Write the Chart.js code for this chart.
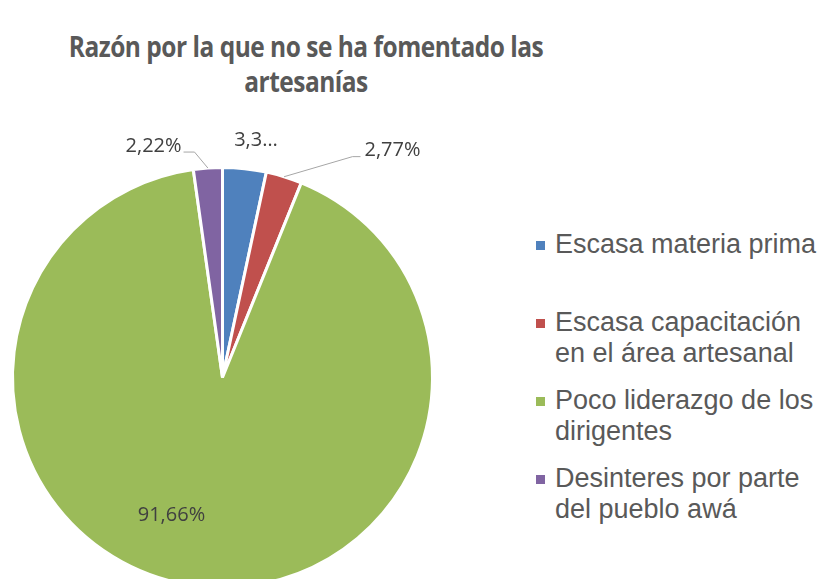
<!DOCTYPE html>
<html>
<head>
<meta charset="utf-8">
<script src="https://cdn.jsdelivr.net/npm/chart.js@4"></script>
<style>
  html, body { margin: 0; padding: 0; background: #fff; }
  #page { position: relative; width: 824px; height: 579px; overflow: hidden; }
  #title {
    position: absolute; left: 0; top: 35px; width: 612px;
    text-align: center; font-family: "Open Sans", sans-serif; font-weight: bold;
    font-size: 24.5px; letter-spacing: -0.5px; line-height: 28.5px; color: #595959;
    transform: scaleY(1.2); transform-origin: 50% 50%;
  }
  #chart-box { position: absolute; left: 0; top: 100px; width: 444px; height: 500px; }
  #legend {
    position: absolute; left: 536px; top: 229px;
    font-family: "Liberation Sans", Arial, sans-serif; font-size: 27px; color: #595959;
  }
  .legend-item { display: flex; align-items: flex-start; }
  .legend-swatch { width: 9px; height: 9px; margin-top: 12px; margin-right: 10px; flex: none; }
  .legend-text { line-height: 31px; }
</style>
</head>
<body>
<div id="page">
  <div id="title">Razón por la que no se ha fomentado las<br>artesanías</div>
  <div id="chart-box"><canvas id="pie" width="444" height="500"></canvas></div>
  <div id="legend"></div>
</div>
<script>
// =========================================================
// DATA
// =========================================================
const categories = [
  "Escasa materia prima",
  "Escasa capacitación en el área artesanal",
  "Poco liderazgo de los dirigentes",
  "Desinteres por parte del pueblo awá",
];
const legendLines = [
  ["Escasa materia prima"],
  ["Escasa capacitación", "en el área artesanal"],
  ["Poco liderazgo de los", "dirigentes"],
  ["Desinteres por parte", "del pueblo awá"],
];
const percentages = [3.35, 2.77, 91.66, 2.22];

const SLICE_COLORS = ["#4F81BD", "#C0504D", "#9BBB59", "#8064A2"];

// where each value label sits: angle nudge (deg) from the slice middle,
// distance as a fraction of the radius, and whether it gets a leader line
const labelPlacement = [
  { nudge: 2, dist: 1.14, leader: false, truncate: true },
  { nudge: 19.8, dist: 1.35, leader: true },
  { nudge: 13.3, dist: 0.70, leader: false },
  { nudge: -12.6, dist: 1.15, leader: true },
];

// =========================================================
// HELPER: 91.66 -> "91,66%"
// =========================================================
function formatPercent(value, truncate) {
  const text = value.toFixed(2).replace(".", ",") + "%";
  if (truncate) {
    return text.slice(0, 3) + "…";
  }
  return text;
}

// =========================================================
// PLUGIN: value labels with the little grey leader lines
// =========================================================
const valueLabels = {
  id: "valueLabels",
  afterDatasetsDraw(chart) {
    const ctx = chart.ctx;
    const arcs = chart.getDatasetMeta(0).data;
    ctx.save();
    ctx.font = "20px 'Open Sans', sans-serif";
    ctx.fillStyle = "#404040";
    ctx.textAlign = "center";
    ctx.textBaseline = "middle";

    arcs.forEach((arc, i) => {
      const place = labelPlacement[i];
      const mid = (arc.startAngle + arc.endAngle) / 2;
      const angle = mid + (place.nudge * Math.PI) / 180;
      const r = arc.outerRadius;
      const lx = arc.x + Math.cos(angle) * r * place.dist;
      const ly = arc.y + Math.sin(angle) * r * place.dist;
      const text = formatPercent(percentages[i], place.truncate);

      if (place.leader) {
        const w = ctx.measureText(text).width;
        const px = arc.x + Math.cos(mid) * r;
        const py = arc.y + Math.sin(mid) * r;
        const lineY = ly + 6;
        let elbowX, endX;
        if (lx > px) {
          elbowX = lx - w / 2 - 12;
          endX = lx - w / 2 - 4;
        } else {
          elbowX = lx + w / 2 + 13;
          endX = lx + w / 2 + 2;
        }
        ctx.strokeStyle = "#A6A6A6";
        ctx.lineWidth = 1;
        ctx.beginPath();
        ctx.moveTo(px, py);
        ctx.lineTo(elbowX, lineY);
        ctx.lineTo(endX, lineY);
        ctx.stroke();
      }
      ctx.fillText(text, lx, ly);
    });
    ctx.restore();
  },
};

// =========================================================
// CHART
// =========================================================
new Chart(document.getElementById("pie"), {
  type: "pie",
  data: {
    labels: categories,
    datasets: [
      {
        data: percentages,
        backgroundColor: SLICE_COLORS,
        borderColor: "#FFFFFF",
        borderWidth: 3,
      },
    ],
  },
  options: {
    responsive: false,
    animation: false,
    layout: { padding: { top: 66, bottom: 11, left: 11, right: 10 } },
    plugins: {
      legend: { display: false },
      tooltip: { enabled: false },
    },
  },
  plugins: [valueLabels],
});

// =========================================================
// LEGEND (built from the same arrays)
// =========================================================
const legendBox = document.getElementById("legend");
legendLines.forEach((lines, i) => {
  const item = document.createElement("div");
  item.className = "legend-item";
  item.style.marginBottom = lines.length === 1 ? "47px" : "16px";
  item.innerHTML =
    '<span class="legend-swatch" style="background:' + SLICE_COLORS[i] + '"></span>' +
    '<span class="legend-text">' + lines.join("<br>") + "</span>";
  legendBox.appendChild(item);
});
</script>
</body>
</html>
